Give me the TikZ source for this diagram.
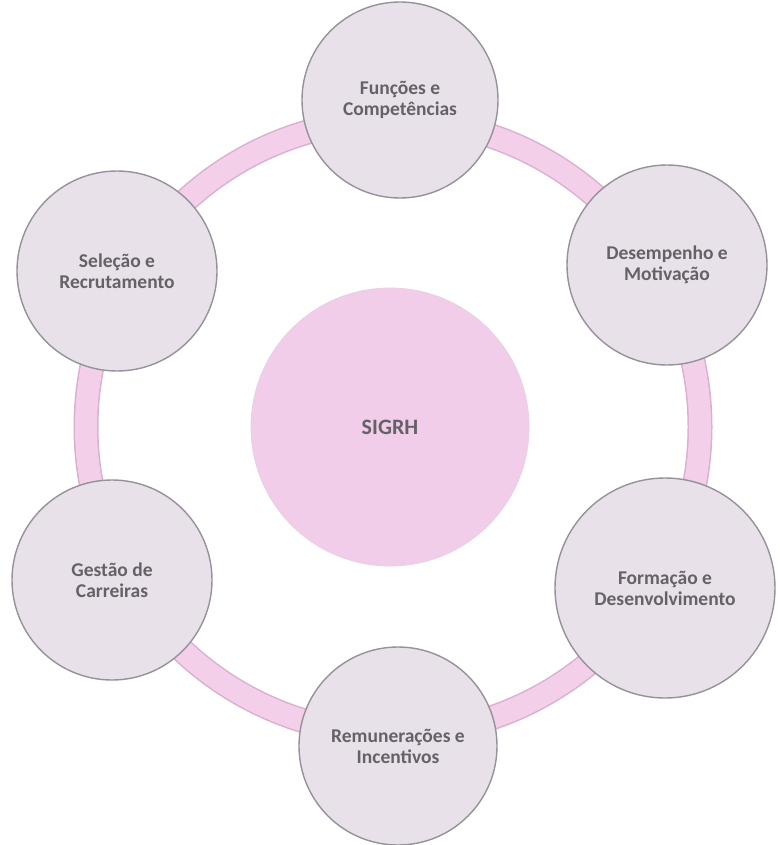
\documentclass[tikz,border=0pt]{standalone}
\usepackage{fontspec}
\setmainfont{Carlito}
\definecolor{outerfill}{HTML}{E9E1EA}
\definecolor{outerline}{HTML}{96919A}
\definecolor{centerfill}{HTML}{F1CDE9}
\definecolor{ringfill}{HTML}{F3CFEA}
\definecolor{ringedge}{HTML}{D9B0CF}
\definecolor{textgrey}{HTML}{646266}
\begin{document}
\begin{tikzpicture}[x=1pt,y=-1pt,
  outer/.style={circle, draw=outerline, line width=1.4pt, fill=outerfill,
    text=textgrey, font=\bfseries\fontsize{19.5}{21}\selectfont,
    align=center, inner sep=0pt},
  centre/.style={circle, draw=ringedge!60, line width=0.8pt, fill=centerfill,
    text=textgrey, font=\bfseries\fontsize{22}{24}\selectfont,
    inner sep=0pt, minimum size=278pt}]
\useasboundingbox (0,0) rectangle (779,845);
% ring
\coordinate (rc) at (393,427);
\draw[ringedge, line width=25pt] (rc) circle[radius=307pt];
\draw[ringfill, line width=22pt] (rc) circle[radius=307pt];
% centre
\node[centre] (sigrh) at (390,427) {SIGRH};
% outer circles
\node[outer, minimum size=196pt] (func) at (400,100) {Funções e\\Competências};
\node[outer, minimum size=200pt] (desemp) at (667,265) {Desempenho e\\Motivação};
\node[outer, minimum size=220pt] (form) at (665,588) {Formação e\\Desenvolvimento};
\node[outer, minimum size=198pt] (remun) at (398,746) {Remunerações e\\Incentivos};
\node[outer, minimum size=200pt] (gest) at (112,580) {Gestão de\\Carreiras};
\node[outer, minimum size=200pt] (selec) at (117,271) {Seleção e\\Recrutamento};
\end{tikzpicture}
\end{document}
